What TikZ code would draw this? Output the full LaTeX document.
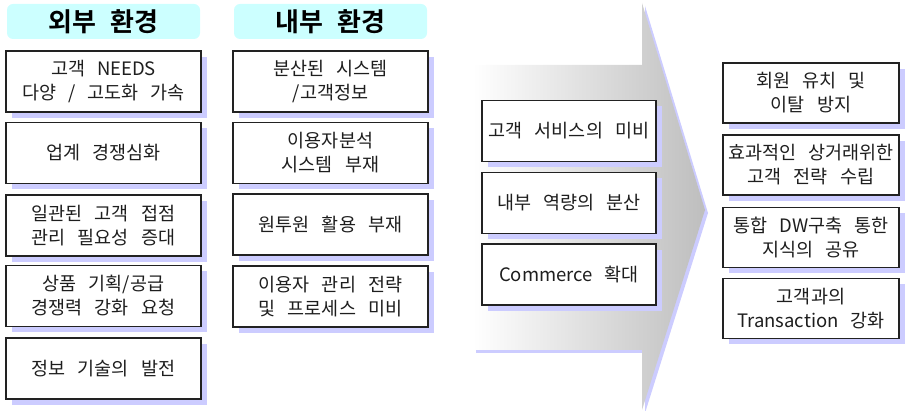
\documentclass[tikz,border=0pt]{standalone}
\usepackage{fontspec}
\setmainfont{Noto Sans CJK KR}
\newfontfamily\boxfont[WordSpace=2.9]{Noto Sans CJK KR}
\newfontfamily\krbold[WordSpace=2.4]{Noto Sans CJK KR Bold}
\usetikzlibrary{shadows}
\definecolor{lav}{RGB}{204,204,255}
\definecolor{titlecyan}{RGB}{204,255,255}
\definecolor{boxline}{RGB}{34,34,34}
\definecolor{txt}{RGB}{30,30,30}
\definecolor{arrgray}{RGB}{190,190,190}
\tikzset{
  cbox/.style={draw=boxline, line width=1.6pt, fill=white, inner sep=0pt, align=center,
    text=txt, font=\boxfont\fontsize{18.5}{24}\selectfont,
    drop shadow={shadow xshift=6pt, shadow yshift=-6pt, fill=lav, opacity=1}},
  lbox/.style={cbox, minimum width=195pt, minimum height=61pt},
  abox/.style={cbox, minimum width=174pt, minimum height=61pt},
  rbox/.style={cbox, minimum width=176pt, minimum height=60pt},
  tbox/.style={fill=titlecyan, rounded corners=6pt, inner sep=0pt,
    minimum width=193pt, minimum height=35pt, font=\krbold\fontsize{26}{28}\selectfont, text=black}
}
\begin{document}
\begin{tikzpicture}[x=1pt,y=-1pt]
\useasboundingbox (0,0) rectangle (919,411);
% titles
\node[tbox] (t1) at (103.5,21.5) {외부 환경};
\node[tbox] (t2) at (330.5,21.5) {내부 환경};
% left column
\node[lbox] (l1) at (103.5,81.5) {고객 NEEDS\\다양 / 고도화 가속};
\node[lbox] (l2) at (103.5,153) {업계 경쟁심화};
\node[lbox] (l3) at (103.5,225.5) {일관된 고객 접점\\관리 필요성 증대};
\node[lbox] (l4) at (103.5,296) {상품 기획/공급\\경쟁력 강화 요청};
\node[lbox] (l5) at (103.5,368.5) {정보 기술의 발전};
% middle column
\node[lbox] (m1) at (330.5,81.5) {분산된 시스템\\/고객정보};
\node[lbox] (m2) at (330.5,153) {이용자분석\\시스템 부재};
\node[lbox] (m3) at (330.5,224.5) {원투원 활용 부재};
\node[lbox] (m4) at (330.5,296.5) {이용자 관리 전략\\및 프로세스 미비};
% arrow
\fill[lav] (476,68) -- (645,68) -- (645,6) -- (708,213) -- (645,413) -- (645,353) -- (476,353) -- cycle;
\shade[left color=white, right color=arrgray] (473,65) -- (642,65) -- (642,3) -- (705,210) -- (642,410) -- (642,350) -- (473,350) -- cycle;
\node[abox] (a1) at (569,131) {고객 서비스의 미비};
\node[abox] (a2) at (569,203) {내부 역량의 분산};
\node[abox] (a3) at (569,274.5) {Commerce 확대};
% right column
\node[rbox] (r1) at (811,93) {회원 유치 및\\이탈 방지};
\node[rbox] (r2) at (811,165) {효과적인 상거래위한\\고객 전략 수립};
\node[rbox] (r3) at (811,237.5) {통합 DW구축 통한\\지식의 공유};
\node[rbox] (r4) at (811,308.5) {고객과의\\Transaction 강화};
\end{tikzpicture}
\end{document}
